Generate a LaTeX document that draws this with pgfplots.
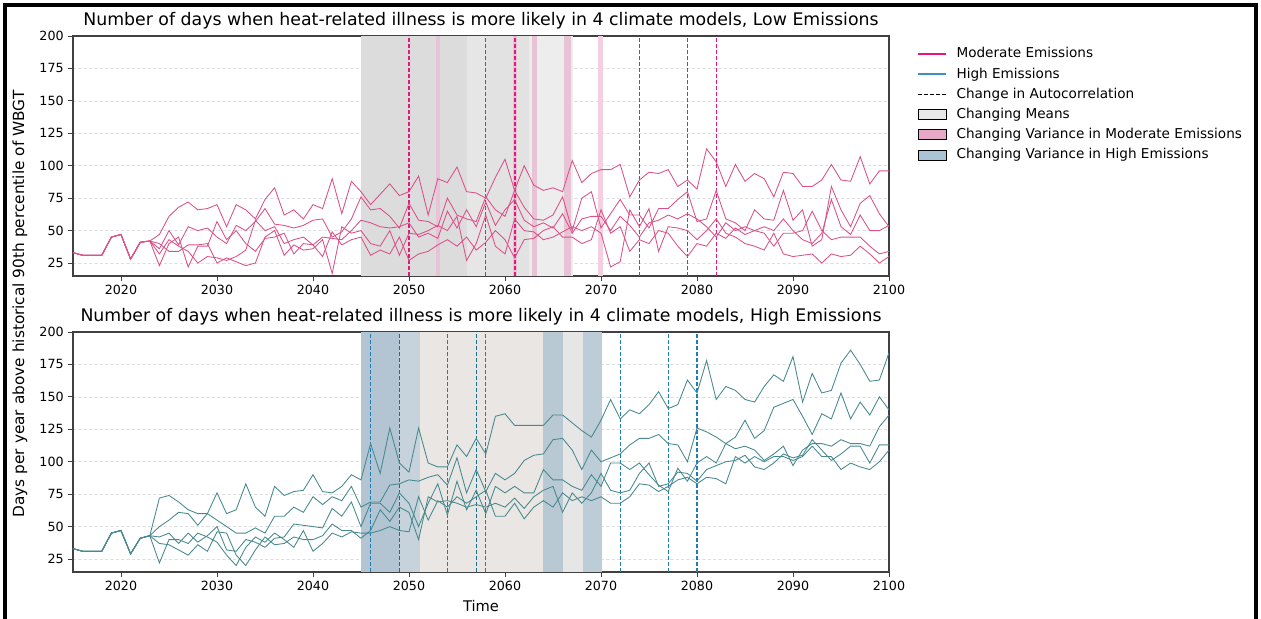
\documentclass[border=0pt]{standalone}
\usepackage{fontspec}
\setmainfont{DejaVu Sans}
\usepackage{pgfplots}
\usepackage{pgfplotstable}
\pgfplotsset{compat=1.18}

\definecolor{modc}{HTML}{E8137F}
\definecolor{modline}{HTML}{DA5289}
\definecolor{highc}{HTML}{3C8FC3}
\definecolor{highline}{HTML}{47898F}
\definecolor{dashmod}{HTML}{E0197F}
\definecolor{dashmod2}{HTML}{B0308A}
\definecolor{dashhigh}{HTML}{1F7DB3}
\definecolor{dashhigh2}{HTML}{1A6F8A}
\definecolor{gA}{HTML}{DCDCDC}
\definecolor{gB}{HTML}{E6E6E6}
\definecolor{gC}{HTML}{E2E2E2}
\definecolor{gD}{HTML}{EDEDED}
\definecolor{pk}{HTML}{E8C3D5}
\definecolor{pkw}{HTML}{F3CFE0}
\definecolor{bA}{HTML}{B3C5D2}
\definecolor{bB}{HTML}{C7D3DC}
\definecolor{bC}{HTML}{E9E6E4}
\definecolor{bD}{HTML}{B8C9D4}
\definecolor{bE}{HTML}{E6E6E6}
\definecolor{bF}{HTML}{BCCDD8}
\definecolor{legmean}{HTML}{E8E8E8}
\definecolor{legpk}{HTML}{E8A9C8}
\definecolor{legbl}{HTML}{A9C4D4}
\definecolor{gridc}{HTML}{E0E0E0}
\definecolor{axc}{HTML}{404040}

\pgfplotstableread{
year a b c d e
2015 33 33 33 33 33
2016 31 31 31 31 31
2017 31 31 31 31 31
2018 31 31 31 31 31
2019 45 45 45 45 45
2020 47 47 47 47 47
2021 28 28 28 28 28
2022 41 41 41 41 41
2023 42 42 42 42 42
2024 47 36 23 40 32
2025 61 50 40 34 43
2026 68 39 45 34 38
2027 72 53 22 39 34
2028 66 50 38 39 25
2029 67 52 38 40 30
2030 70 45 57 25 29
2031 53 40 43 29 27
2032 70 54 50 26 30
2033 66 50 40 23 35
2034 59 57 34 25 58
2035 74 67 44 45 50
2036 83 55 45 50 53
2037 62 54 48 31 40
2038 66 52 32 39 43
2039 59 54 40 35 45
2040 70 58 39 36 39
2041 67 59 45 43 30
2042 90 45 44 17 49
2043 63 49 43 53 39
2044 88 59 50 48 43
2045 80 76 58 50 45
2046 70 66 56 40 31
2047 78 67 53 38 35
2048 86 61 52 50 32
2049 77 52 53 31 45
2050 80 71 56 48 27
2051 92 58 45 47 32
2052 62 57 48 50 34
2053 90 53 44 54 39
2054 87 75 65 50 43
2055 99 62 52 61 38
2056 80 59 66 27 45
2057 79 57 53 40 35
2058 75 76 72 62 41
2059 91 66 54 38 50
2060 105 61 66 32 43
2061 81 81 74 59 29
2062 100 68 58 50 43
2063 85 59 53 49 44
2064 81 58 56 43 50
2065 83 62 52 45 53
2066 80 76 63 49 45
2067 104 50 48 53 45
2068 87 75 59 50 40
2069 94 80 61 53 43
2070 97 52 61 48 66
2071 97 63 50 22 48
2072 101 74 61 26 53
2073 76 62 54 66 34
2074 89 62 45 53 43
2075 95 52 56 67 40
2076 94 67 58 34 50
2077 97 67 62 53 48
2078 84 74 59 52 38
2079 89 80 63 50 30
2080 82 57 59 43 40
2081 113 59 53 50 38
2082 103 81 45 59 48
2083 84 59 56 48 44
2084 101 56 50 45 52
2085 88 50 53 40 47
2086 94 66 50 38 50
2087 90 59 53 35 48
2088 76 58 50 48 38
2089 95 81 59 32 48
2090 94 58 50 30 48
2091 84 66 43 31 50
2092 84 38 40 32 65
2093 89 43 48 25 50
2094 101 84 74 32 43
2095 89 66 53 30 45
2096 88 53 47 31 45
2097 107 71 62 38 45
2098 86 77 50 32 38
2099 96 63 50 25 32
2100 96 53 54 30 34
}\topdata

\pgfplotstableread{
year a b c d e
2015 33 33 33 33 33
2016 31 31 31 31 31
2017 31 31 31 31 31
2018 31 31 31 31 31
2019 45 45 45 45 45
2020 47 47 47 47 47
2021 29 29 29 29 29
2022 41 41 41 41 41
2023 43 43 43 43 43
2024 72 50 42 37 22
2025 74 55 45 36 40
2026 69 61 37 32 40
2027 63 60 45 28 37
2028 60 51 38 36 45
2029 60 60 43 31 42
2030 76 55 50 46 38
2031 60 50 32 45 28
2032 63 45 31 28 20
2033 83 45 40 20 34
2034 65 49 38 32 42
2035 58 45 34 42 38
2036 81 58 41 36 45
2037 74 58 42 37 40
2038 77 65 52 42 34
2039 78 61 51 40 47
2040 90 73 50 40 31
2041 77 67 49 43 37
2042 76 73 64 52 45
2043 81 70 58 47 42
2044 90 81 69 47 46
2045 86 65 50 41 45
2046 114 69 68 47 45
2047 91 69 68 63 47
2048 126 82 61 54 50
2049 99 83 76 65 47
2050 92 86 68 61 46
2051 126 85 50 40 73
2052 99 88 68 73 55
2053 96 90 83 69 70
2054 96 82 59 70 65
2055 113 103 85 68 73
2056 104 76 63 65 68
2057 118 94 78 67 73
2058 106 77 60 65 78
2059 135 91 81 68 58
2060 137 86 76 65 58
2061 128 91 81 72 68
2062 128 101 76 64 56
2063 128 105 76 73 65
2064 128 106 94 78 70
2065 136 117 86 81 65
2066 136 118 86 61 76
2067 130 109 81 76 70
2068 124 94 78 68 73
2069 119 109 90 76 70
2070 132 100 81 91 73
2071 148 103 99 78 68
2072 133 106 99 76 68
2073 140 113 94 78 73
2074 137 118 99 91 83
2075 144 118 90 99 82
2076 154 121 82 81 77
2077 141 114 77 83 81
2078 144 113 95 92 86
2079 163 100 85 91 88
2080 153 126 99 85 83
2081 178 123 104 94 88
2082 148 119 99 97 87
2083 158 114 114 100 83
2084 155 119 110 101 104
2085 148 132 112 105 99
2086 146 118 109 96 104
2087 158 124 101 94 100
2088 167 142 106 99 104
2089 162 145 112 106 104
2090 181 148 97 103 101
2091 146 135 109 105 104
2092 168 121 114 117 112
2093 153 137 114 109 104
2094 155 133 112 101 104
2095 176 153 117 106 94
2096 186 133 114 112 99
2097 175 146 114 112 96
2098 162 136 112 99 94
2099 163 150 127 113 100
2100 184 140 136 113 109
}\botdata

\pgfplotsset{
  panel/.style={
    width=612pt, height=180pt, scale only axis,
    xmin=2015, xmax=2100, ymin=15, ymax=200,
    xtick={2020,2030,...,2100}, ytick={25,50,...,200},
    ymajorgrids, grid style={dash pattern=on 2.5pt off 1.5pt, draw=gridc, line width=0.5pt},
    tick pos=left, tick align=outside,
    major tick length=3.5pt,
    tick style={draw=axc, line width=0.6pt},
    axis line style={draw=axc, line width=0.8pt},
    tick label style={font=\fontsize{9.5}{11}\selectfont},
    /pgf/number format/assume math mode=true,
    /pgf/number format/1000 sep={},
    title style={font=\fontsize{13}{15}\selectfont, yshift=-4.5pt},
    label style={font=\fontsize{11}{13}\selectfont},
  },
  mline/.style={draw=modline, line width=0.65pt, forget plot},
  hline/.style={draw=highline, line width=0.65pt, forget plot},
  vdash/.style={draw=#1, dash pattern=on 3pt off 1.5pt, line width=1pt, forget plot},
  span/.style={fill=#1, draw=none, forget plot},
  lineleg/.style={legend image code/.code={\draw[##1] (0pt,0pt) -- (21pt,0pt);}},
  boxleg/.style={legend image code/.code={\fill[##1] (0pt,-3.75pt) rectangle (21pt,3.75pt);}},
}

\begin{document}
\begin{tikzpicture}
\useasboundingbox (0,0) rectangle (945.75pt,-463.5pt);
\clip (0,0) rectangle (945.75pt,-463.5pt);
\draw[line width=3pt] (3.6pt,-470pt) -- (3.6pt,-3.6pt) -- (942.2pt,-3.6pt) -- (942.2pt,-470pt);

% ---------- top panel ----------
\begin{axis}[panel, at={(54.75pt,-27pt)}, anchor=north west,
  title={Number of days when heat-related illness is more likely in 4 climate models, Low Emissions},
  legend style={at={(1.03,0.975)}, anchor=north west, draw=none, fill=none,
    font=\fontsize{10.2}{12}\selectfont, row sep=1.9pt,
    /tikz/every odd column/.append style={column sep=5pt}},
  legend cell align=left]
% changing means
\addplot[span=gA] coordinates {(2045,200) (2056,200)} \closedcycle;
\addplot[span=gB] coordinates {(2056,200) (2058,200)} \closedcycle;
\addplot[span=gC] coordinates {(2058,200) (2062.5,200)} \closedcycle;
\addplot[span=gD] coordinates {(2062.5,200) (2067.1,200)} \closedcycle;
% changing variance, moderate
\addplot[span=pk] coordinates {(2052.8,200) (2053.25,200)} \closedcycle;
\addplot[span=pk] coordinates {(2060.8,200) (2061.25,200)} \closedcycle;
\addplot[span=pk] coordinates {(2062.8,200) (2063.3,200)} \closedcycle;
\addplot[span=pk] coordinates {(2066.1,200) (2066.9,200)} \closedcycle;
\addplot[span=pkw] coordinates {(2069.7,200) (2070.2,200)} \closedcycle;
% autocorrelation
\addplot[vdash=dashmod] coordinates {(2050,15) (2050,200)};
\addplot[vdash=dashmod] coordinates {(2058,15) (2058,200)};
\addplot[vdash=dashmod] coordinates {(2061,15) (2061,200)};
\addplot[vdash=dashmod2] coordinates {(2061.1,15) (2061.1,200)};
\addplot[vdash=dashmod] coordinates {(2074,15) (2074,200)};
\addplot[vdash=dashmod] coordinates {(2079,15) (2079,200)};
\addplot[vdash=dashmod] coordinates {(2082,15) (2082,200)};
% series
\addplot[mline] table[x=year,y=a]{\topdata};
\addplot[mline] table[x=year,y=b]{\topdata};
\addplot[mline] table[x=year,y=c]{\topdata};
\addplot[mline] table[x=year,y=d]{\topdata};
\addplot[mline] table[x=year,y=e]{\topdata};
% legend
\addlegendimage{lineleg, draw=modc, line width=1.1pt}
\addlegendentry{Moderate Emissions}
\addlegendimage{lineleg, draw=highc, line width=1.1pt}
\addlegendentry{High Emissions}
\addlegendimage{lineleg, draw=black, dash pattern=on 3pt off 1.5pt, line width=1pt}
\addlegendentry{Change in Autocorrelation}
\addlegendimage{boxleg, fill=legmean}
\addlegendentry{Changing Means}
\addlegendimage{boxleg, fill=legpk}
\addlegendentry{Changing Variance in Moderate Emissions}
\addlegendimage{boxleg, fill=legbl}
\addlegendentry{Changing Variance in High Emissions}
\end{axis}

% ---------- bottom panel ----------
\begin{axis}[panel, at={(54.75pt,-249pt)}, anchor=north west,
  title={Number of days when heat-related illness is more likely in 4 climate models, High Emissions},
  xlabel={Time}]
\addplot[span=bA] coordinates {(2045,200) (2049,200)} \closedcycle;
\addplot[span=bB] coordinates {(2049,200) (2051.1,200)} \closedcycle;
\addplot[span=bC] coordinates {(2051.1,200) (2064,200)} \closedcycle;
\addplot[span=bD] coordinates {(2064,200) (2066,200)} \closedcycle;
\addplot[span=bE] coordinates {(2066,200) (2068.1,200)} \closedcycle;
\addplot[span=bF] coordinates {(2068.1,200) (2070.1,200)} \closedcycle;
% autocorrelation
\addplot[vdash=dashhigh] coordinates {(2046,15) (2046,200)};
\addplot[vdash=dashhigh2] coordinates {(2049,15) (2049,200)};
\addplot[vdash=dashhigh] coordinates {(2054,15) (2054,200)};
\addplot[vdash=dashhigh2] coordinates {(2057,15) (2057,200)};
\addplot[vdash=dashhigh] coordinates {(2058,15) (2058,200)};
\addplot[vdash=dashhigh] coordinates {(2072,15) (2072,200)};
\addplot[vdash=dashhigh] coordinates {(2077,15) (2077,200)};
\addplot[vdash=dashhigh] coordinates {(2080,15) (2080,200)};
% series
\addplot[hline] table[x=year,y=a]{\botdata};
\addplot[hline] table[x=year,y=b]{\botdata};
\addplot[hline] table[x=year,y=c]{\botdata};
\addplot[hline] table[x=year,y=d]{\botdata};
\addplot[hline] table[x=year,y=e]{\botdata};
\end{axis}

\node[rotate=90, font=\fontsize{11.5}{13}\selectfont] at (15pt,-228pt)
  {Days per year above historical 90th percentile of WBGT};
\end{tikzpicture}
\end{document}
